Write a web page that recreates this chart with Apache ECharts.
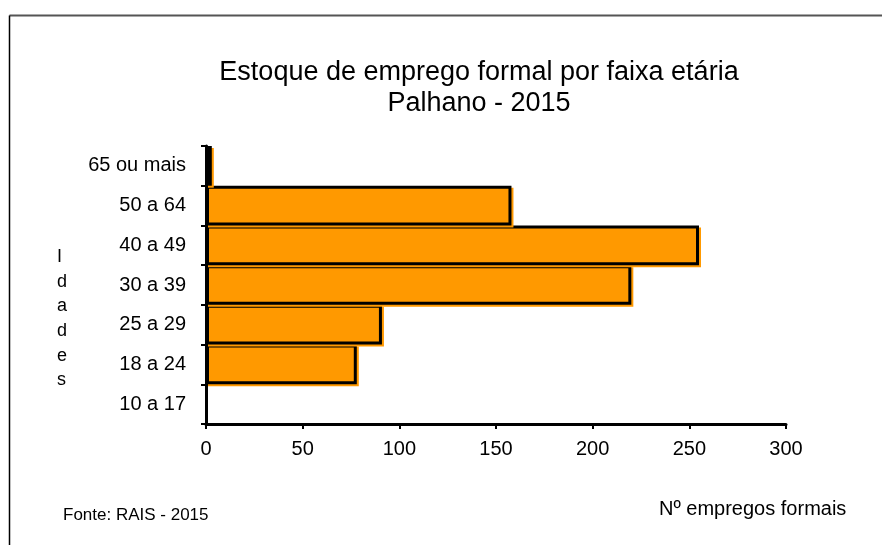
<!DOCTYPE html>
<html>
<head>
<meta charset="utf-8">
<script src="https://cdn.jsdelivr.net/npm/echarts@6/dist/echarts.min.js"></script>
<style>html,body{margin:0;padding:0;background:#fff}#c{width:882px;height:545px}</style>
</head>
<body>
<div id="c"></div>
<script>
var categories = ['10 a 17', '18 a 24', '25 a 29', '30 a 39', '40 a 49', '50 a 64', '65 ou mais'];
var values = [0, 78, 91, 220, 255, 158, 3];
var xTicks = [0, 50, 100, 150, 200, 250, 300];

var chart = echarts.init(document.getElementById('c'));
var font = 'Liberation Sans, Arial, sans-serif';
chart.setOption({
  animation: false,
  backgroundColor: '#fff',
  title: {
    text: 'Estoque de emprego formal por faixa etária\nPalhano - 2015',
    left: 474, top: 52, textAlign: 'center',
    textStyle: {fontFamily: font, fontSize: 27, fontWeight: 'normal', color: '#000', lineHeight: 31}
  },
  grid: {left: 206, right: 96, top: 146, bottom: 121, containLabel: false},
  xAxis: {
    type: 'value', min: xTicks[0], max: xTicks[xTicks.length - 1], interval: 50,
    axisLine: {show: true, lineStyle: {color: '#000', width: 3}},
    axisTick: {show: true, length: 5, lineStyle: {color: '#000', width: 2}},
    axisLabel: {margin: 15, fontFamily: font, fontSize: 20, color: '#000'},
    splitLine: {show: false}
  },
  yAxis: {
    type: 'category', data: categories,
    axisLine: {show: true, lineStyle: {color: '#000', width: 3}},
    axisTick: {show: true, length: 5, lineStyle: {color: '#000', width: 2}},
    axisLabel: {margin: 20, fontFamily: font, fontSize: 20, color: '#000'}
  },
  series: [{
    type: 'bar', barCategoryGap: '0%',
    data: values.map(function (v) {
      return v === 0 ? {value: v, itemStyle: {borderWidth: 0, shadowColor: 'transparent'}} : v;
    }),
    itemStyle: {color: '#FF9900', borderColor: '#000', borderWidth: 3,
      shadowColor: '#FF9900', shadowOffsetX: 2, shadowOffsetY: 2, shadowBlur: 0}
  }],
  graphic: [
    {type: 'line', shape: {x1: 9.5, y1: 15.5, x2: 882, y2: 15.5}, style: {stroke: '#555', lineWidth: 2}},
    {type: 'line', shape: {x1: 9.5, y1: 15.5, x2: 9.5, y2: 545}, style: {stroke: '#000', lineWidth: 1.5}},
    {type: 'text', left: 57, top: 245, style: {text: 'I\nd\na\nd\ne\ns', fontFamily: font, fontSize: 18, lineHeight: 24.6, fill: '#000', align: 'center'}},
    {type: 'text', left: 63, top: 507, style: {text: 'Fonte: RAIS - 2015', fontFamily: font, fontSize: 17, fill: '#000'}},
    {type: 'text', left: 659, top: 499, style: {text: 'Nº empregos formais', fontFamily: font, fontSize: 20, fill: '#000'}}
  ]
});
</script>
</body>
</html>
